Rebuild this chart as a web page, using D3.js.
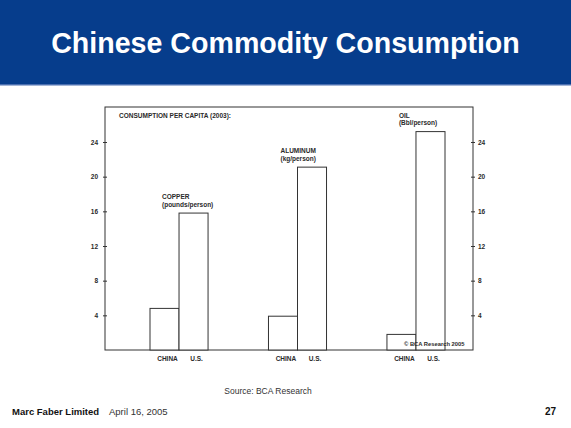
<!DOCTYPE html>
<html>
<head>
<meta charset="utf-8">
<script src="https://cdn.jsdelivr.net/npm/d3@7/dist/d3.min.js"></script>
<style>
  html, body { margin: 0; padding: 0; background: #fff; }
  svg { display: block; }
  text { font-family: "Liberation Sans", Arial, sans-serif; }
</style>
</head>
<body>
<svg id="chart" width="571" height="428"></svg>
<script>
// ---- Data ----
const groups = ["COPPER", "ALUMINUM", "OIL"];
const groupUnits = ["(pounds/person)", "(kg/person)", "(Bbl/person)"];
const countries = ["CHINA", "U.S."];
const chinaValues = [4.8, 3.9, 1.8];
const usValues = [15.8, 21.1, 25.2];
const yTicks = [4, 8, 12, 16, 20, 24];

const title = "Chinese Commodity Consumption";
const chartHeading = "CONSUMPTION PER CAPITA (2003):";
const copyright = "\u00A9 BCA Research 2005";
const source = "Source: BCA Research";
const footerOrg = "Marc Faber Limited";
const footerDate = "April 16, 2005";
const pageNum = "27";

const svg = d3.select("#chart");
const ink = "#2a2a2a";

// Header band
svg.append("rect").attr("x", 0).attr("y", 0).attr("width", 571).attr("height", 85).attr("fill", "#063d8c");
svg.append("rect").attr("x", 0).attr("y", 84).attr("width", 571).attr("height", 1.5).attr("fill", "#4a6fb0");
svg.append("text").attr("x", 285.5).attr("y", 53).attr("text-anchor", "middle")
  .attr("fill", "#fff").attr("font-weight", "bold").attr("font-size", 28.6).text(title);

// Scales
const y = d3.scaleLinear().domain([0, 24]).range([350, 142]);
const x0 = d3.scaleBand().domain(groups).range([150, 445]).paddingInner(0.51);
const x1 = d3.scaleBand().domain(countries).range([0, x0.bandwidth()]);

const frame = { left: 105, right: 473, top: 107, bottom: 350 };

// Frame
svg.append("rect").attr("x", frame.left).attr("y", frame.top)
  .attr("width", frame.right - frame.left).attr("height", frame.bottom - frame.top)
  .attr("fill", "none").attr("stroke", "#333").attr("stroke-width", 1);

// Left axis
const gl = svg.append("g").attr("transform", `translate(${frame.left + 2},0)`)
  .call(d3.axisLeft(y).tickValues(yTicks).tickSize(4).tickPadding(5));
gl.select(".domain").remove();
gl.selectAll("line").attr("stroke", "#333");
gl.selectAll("text").attr("font-size", 6.5).attr("font-weight", "bold").attr("fill", ink);

// Right axis
const gr = svg.append("g").attr("transform", `translate(${frame.right - 2},0)`)
  .call(d3.axisRight(y).tickValues(yTicks).tickSize(4).tickPadding(3));
gr.select(".domain").remove();
gr.selectAll("line").attr("stroke", "#333");
gr.selectAll("text").attr("font-size", 6.5).attr("font-weight", "bold").attr("fill", ink);

// Bars
const data = groups.map((g, i) => ({ group: g, unit: groupUnits[i], values: [chinaValues[i], usValues[i]] }));
const gg = svg.append("g").selectAll("g").data(data).join("g")
  .attr("transform", d => `translate(${x0(d.group)},0)`);

gg.selectAll("rect").data(d => d.values.map((v, j) => ({ c: countries[j], v }))).join("rect")
  .attr("x", d => x1(d.c))
  .attr("y", d => y(d.v))
  .attr("width", x1.bandwidth())
  .attr("height", d => y(0) - y(d.v))
  .attr("fill", "#fff").attr("stroke", "#333").attr("stroke-width", 1);

// Category labels under bars
gg.selectAll("text.cat").data(countries).join("text").attr("class", "cat")
  .attr("x", c => x1(c) + x1.bandwidth() / 2 + 3)
  .attr("y", 361).attr("text-anchor", "middle")
  .attr("font-size", 6.5).attr("font-weight", "bold").attr("fill", ink).text(c => c);

// Group labels
gg.append("text").attr("x", 12).attr("y", d => y(d.values[1]) - 14)
  .attr("font-size", 6.5).attr("font-weight", "bold").attr("fill", ink).text(d => d.group);
gg.append("text").attr("x", 12).attr("y", d => y(d.values[1]) - 6.5)
  .attr("font-size", 6.5).attr("font-weight", "bold").attr("fill", ink).text(d => d.unit);

// Heading inside chart
svg.append("text").attr("x", 119).attr("y", 118)
  .attr("font-size", 6.5).attr("font-weight", "bold").attr("fill", ink).text(chartHeading);

// Copyright
svg.append("text").attr("x", 404).attr("y", 346)
  .attr("font-size", 5.8).attr("font-weight", "bold").attr("fill", ink).text(copyright);

// Source
svg.append("text").attr("x", 268).attr("y", 394).attr("text-anchor", "middle")
  .attr("font-size", 8.5).attr("fill", "#333").text(source);

// Footer
svg.append("text").attr("x", 12).attr("y", 415)
  .attr("font-size", 9.5).attr("font-weight", "bold").attr("fill", "#111").text(footerOrg);
svg.append("text").attr("x", 109).attr("y", 415)
  .attr("font-size", 9.5).attr("fill", "#333").text(footerDate);
svg.append("text").attr("x", 556).attr("y", 415).attr("text-anchor", "end")
  .attr("font-size", 10).attr("font-weight", "bold").attr("fill", "#111").text(pageNum);
</script>
</body>
</html>
